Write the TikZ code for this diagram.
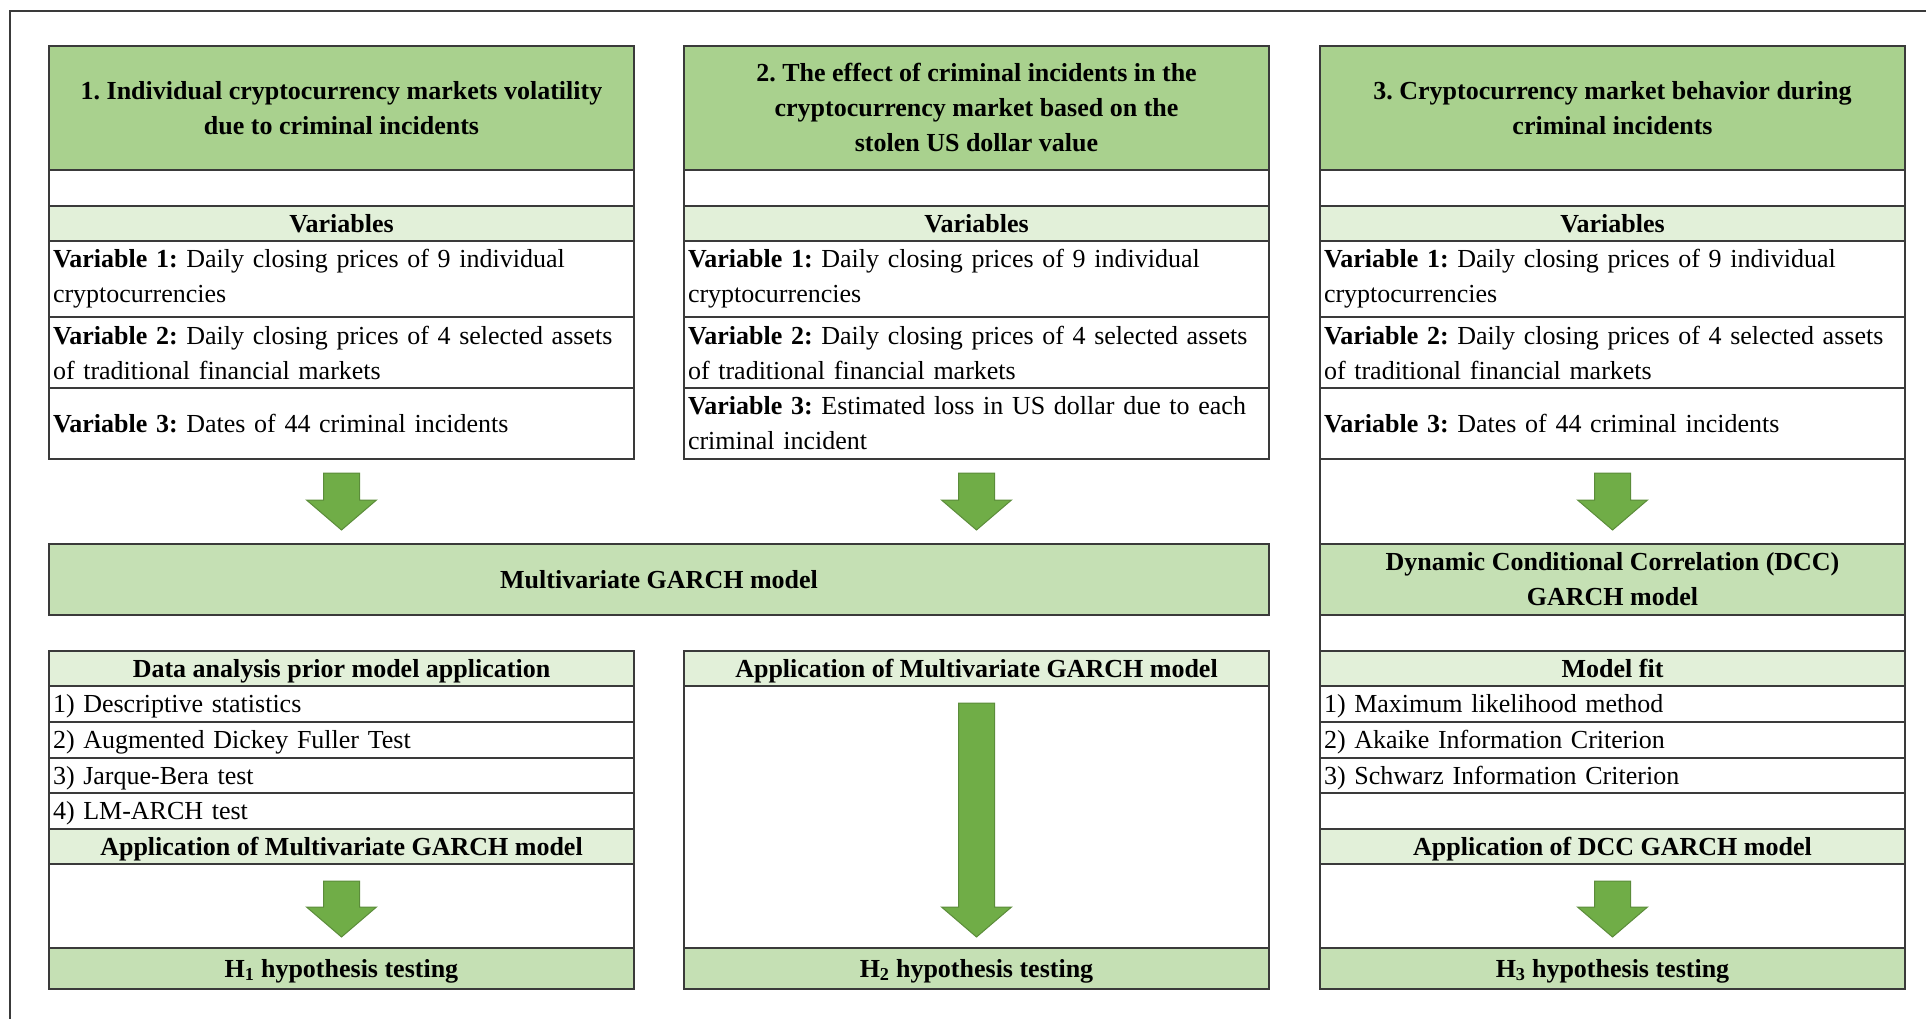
\documentclass[tikz,border=0pt]{standalone}
\usepackage{fontspec}
\setmainfont{Liberation Serif}
\usetikzlibrary{calc}
\definecolor{gdark}{HTML}{A9D18E}
\definecolor{glight}{HTML}{E2F0D9}
\definecolor{gmid}{HTML}{C5E0B4}
\definecolor{afill}{HTML}{70AD47}
\definecolor{aline}{HTML}{5B8C3A}
\definecolor{cline}{HTML}{3A3A3A}
\newcommand\cellfont{\fontsize{26}{35}\selectfont\frenchspacing}
\tikzset{
  cell/.style={draw=cline, line width=1.3pt, anchor=north west, inner sep=0pt, outer sep=0pt, minimum width=585pt, font=\cellfont},
  hdr/.style={cell, fill=gdark, font=\cellfont\bfseries, align=center},
  lite/.style={cell, fill=glight, font=\cellfont\bfseries, align=center},
  mid/.style={cell, fill=gmid, font=\cellfont\bfseries, align=center},
  blank/.style={cell, fill=white},
  txt/.style={cell, fill=white, text width=577pt, inner xsep=4pt, align=left},
  lower/.style={text height=21pt, text depth=4pt},
  garrow/.style={draw=aline, fill=afill, line width=1pt, line join=miter}
}
\newcommand\blockarrow[4]{%
  \path[garrow] let \p1=(#1.south), \p2=(#2.north) in
    (\x1-18pt,\y1-#3) -- (\x1+18pt,\y1-#3) -- (\x1+18pt,\y2+#4+30pt) -- (\x1+35pt,\y2+#4+30pt)
    -- (\x1,\y2+#4) -- (\x1-35pt,\y2+#4+30pt) -- (\x1-18pt,\y2+#4+30pt) -- cycle;}
\begin{document}
\begin{tikzpicture}[x=1pt,y=-1pt]
\useasboundingbox (0,0) rectangle (1926,1019);
\draw[line width=1.3pt, cline] (10,1019) -- (10,11) -- (1926,11);

% ---------- column 1
\node[hdr, minimum height=124pt] (t1) at (49,46) {1. Individual cryptocurrency markets volatility\\due to criminal incidents};
\node[blank, minimum height=36pt] (e1) at (49,170) {};
\node[lite, minimum height=35pt] (var1) at (49,206) {Variables};
\node[txt, minimum height=76pt] (v11) at (49,241) {\textbf{Variable 1:} Daily closing prices of 9 individual\\cryptocurrencies};
\node[txt, minimum height=71pt] (v12) at (49,317) {\textbf{Variable 2:} Daily closing prices of 4 selected assets\\of traditional financial markets};
\node[txt, minimum height=71pt] (v13) at (49,388) {\textbf{Variable 3:} Dates of 44 criminal incidents};

% ---------- column 2
\node[hdr, minimum height=124pt] (t2) at (684,46) {2. The effect of criminal incidents in the\\cryptocurrency market based on the\\stolen US dollar value};
\node[blank, minimum height=36pt] (e2) at (684,170) {};
\node[lite, minimum height=35pt] (var2) at (684,206) {Variables};
\node[txt, minimum height=76pt] (v21) at (684,241) {\textbf{Variable 1:} Daily closing prices of 9 individual\\cryptocurrencies};
\node[txt, minimum height=71pt] (v22) at (684,317) {\textbf{Variable 2:} Daily closing prices of 4 selected assets\\of traditional financial markets};
\node[txt, minimum height=71pt] (v23) at (684,388) {\textbf{Variable 3:} Estimated loss in US dollar due to each\\criminal incident};

% ---------- column 3
\node[hdr, minimum height=124pt] (t3) at (1320,46) {3. Cryptocurrency market behavior during\\criminal incidents};
\node[blank, minimum height=36pt] (e3) at (1320,170) {};
\node[lite, minimum height=35pt] (var3) at (1320,206) {Variables};
\node[txt, minimum height=76pt] (v31) at (1320,241) {\textbf{Variable 1:} Daily closing prices of 9 individual\\cryptocurrencies};
\node[txt, minimum height=71pt] (v32) at (1320,317) {\textbf{Variable 2:} Daily closing prices of 4 selected assets\\of traditional financial markets};
\node[txt, minimum height=71pt] (v33) at (1320,388) {\textbf{Variable 3:} Dates of 44 criminal incidents};
\node[blank, minimum height=85pt] (w31) at (1320,459) {};

% ---------- models
\node[mid, minimum width=1220pt, minimum height=71pt] (mg) at (49,544) {Multivariate GARCH model};
\node[mid, minimum height=71pt] (dcc) at (1320,544) {Dynamic Conditional Correlation (DCC)\\GARCH model};

% ---------- lower column 1
\node[lite, lower, minimum height=35pt] (da1) at (49,651) {Data analysis prior model application};
\node[txt, lower, minimum height=36pt] (d11) at (49,686) {1) Descriptive statistics};
\node[txt, lower, minimum height=36pt] (d12) at (49,722) {2) Augmented Dickey Fuller Test};
\node[txt, lower, minimum height=35pt] (d13) at (49,758) {3) Jarque-Bera test};
\node[txt, lower, minimum height=36pt] (d14) at (49,793) {4) LM-ARCH test};
\node[lite, lower, minimum height=35pt] (ap1) at (49,829) {Application of Multivariate GARCH model};
\node[blank, minimum height=84pt] (w1) at (49,864) {};
\node[mid, lower, minimum height=41pt] (h1) at (49,948) {H\textsubscript{1} hypothesis testing};

% ---------- lower column 2
\node[lite, lower, minimum height=35pt] (ap2) at (684,651) {Application of Multivariate GARCH model};
\node[blank, minimum height=262pt] (w2) at (684,686) {};
\node[mid, lower, minimum height=41pt] (h2) at (684,948) {H\textsubscript{2} hypothesis testing};

% ---------- lower column 3
\node[blank, minimum height=36pt] (w32) at (1320,615) {};
\node[lite, lower, minimum height=35pt] (mf) at (1320,651) {Model fit};
\node[txt, lower, minimum height=36pt] (m1) at (1320,686) {1) Maximum likelihood method};
\node[txt, lower, minimum height=36pt] (m2) at (1320,722) {2) Akaike Information Criterion};
\node[txt, lower, minimum height=35pt] (m3) at (1320,758) {3) Schwarz Information Criterion};
\node[blank, minimum height=36pt] (w33) at (1320,793) {};
\node[lite, lower, minimum height=35pt] (ap3) at (1320,829) {Application of DCC GARCH model};
\node[blank, minimum height=84pt] (w34) at (1320,864) {};
\node[mid, lower, minimum height=41pt] (h3) at (1320,948) {H\textsubscript{3} hypothesis testing};

% ---------- block arrows
\blockarrow{v13}{mg}{14pt}{14pt}
\blockarrow{v23}{mg}{14pt}{14pt}
\blockarrow{v33}{dcc}{14pt}{14pt}
\blockarrow{ap1}{h1}{17pt}{11pt}
\blockarrow{ap2}{h2}{17pt}{11pt}
\blockarrow{ap3}{h3}{17pt}{11pt}
\end{tikzpicture}
\end{document}
